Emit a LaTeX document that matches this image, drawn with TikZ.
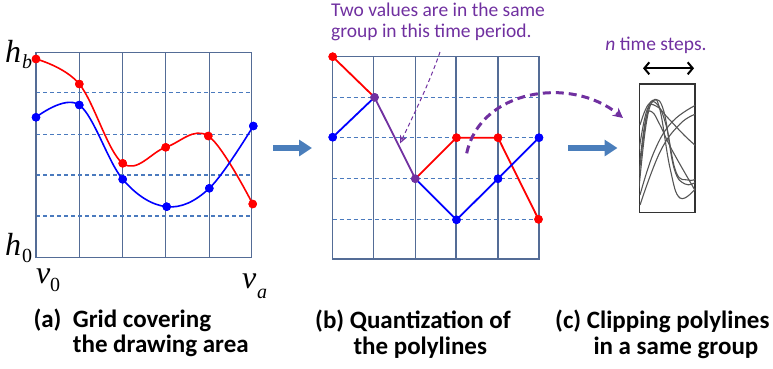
\documentclass[tikz,border=0pt]{standalone}
\usepackage{fontspec}
\setmainfont{Carlito}
\newfontfamily\tms{Liberation Serif}
\usetikzlibrary{arrows.meta}
\definecolor{gridc}{RGB}{84,108,150}
\definecolor{dashc}{RGB}{74,122,190}
\definecolor{purp}{RGB}{112,48,160}
\definecolor{arrowblue}{RGB}{74,126,187}
\definecolor{curvegray}{RGB}{85,85,85}
\begin{document}
\begin{tikzpicture}[x=1pt,y=-1pt,
  gridline/.style={draw=gridc, line width=1.3pt},
  dashline/.style={draw=dashc, line width=1.1pt, dash pattern=on 4pt off 3pt},
  dot/.style={circle, fill=#1, inner sep=0pt, minimum size=8.5pt},
  curveline/.style={draw=#1, line width=1.6pt},
  polyline/.style={draw=#1, line width=1.8pt},
  bigarrow/.style={draw=arrowblue, line width=5.5pt, -{Triangle[length=13pt,width=16pt]}},
  caption/.style={font=\fontsize{25}{25}\selectfont\bfseries, anchor=base west, inner sep=0pt},
  note/.style={font=\fontsize{19.5}{19.5}\selectfont, text=purp, anchor=base west, inner sep=0pt},
  mathlab/.style={font=\tms\fontsize{32}{32}\selectfont\itshape, anchor=base west, inner sep=0pt},
  sub/.style={font=\tms\fontsize{20}{20}\selectfont, anchor=base west, inner sep=0pt},
  gcurve/.style={draw=curvegray, line width=1.1pt}]
\useasboundingbox (0,0) rectangle (773,368);

% ---------- panel (a) grid ----------
\foreach \x in {79.3,122.7,165.7,209.3}
  \draw[gridline] (\x,52.7) -- (\x,257.7);
\foreach \y in {92.7,134.3,175,216}
  \draw[dashline] (36,\y) -- (251.7,\y);
\draw[gridline] (36,52.7) rectangle (251.7,257.7);

% dots (a)
\node[dot=red] (ra1) at (36,59) {};
\node[dot=red] (ra2) at (79.3,84) {};
\node[dot=red] (ra3) at (122.7,163.3) {};
\node[dot=red] (ra4) at (165.7,147.3) {};
\node[dot=red] (ra5) at (208.3,136) {};
\node[dot=red] (ra6) at (252.7,204) {};
\node[dot=blue] (ba1) at (36,117.3) {};
\node[dot=blue] (ba2) at (79.3,105) {};
\node[dot=blue] (ba3) at (122.7,179.3) {};
\node[dot=blue] (ba4) at (166.7,206.7) {};
\node[dot=blue] (ba5) at (209.3,188.3) {};
\node[dot=blue] (ba6) at (253.3,126) {};
\draw[curveline=red] plot[smooth, tension=0.6] coordinates {(ra1.center) (ra2.center) (ra3.center) (ra4.center) (ra5.center) (ra6.center)};
\draw[curveline=blue] plot[smooth, tension=0.6] coordinates {(ba1.center) (ba2.center) (ba3.center) (ba4.center) (ba5.center) (ba6.center)};
\foreach \n in {ra1,ra2,ra3,ra4,ra5,ra6} \fill[red] (\n.center) circle (4.3pt);
\foreach \n in {ba1,ba2,ba3,ba4,ba5,ba6} \fill[blue] (\n.center) circle (4.3pt);

% axis labels
\node[mathlab] (hb) at (5,62) {h};
\node[sub, font=\tms\itshape\fontsize{20}{20}\selectfont] (hbs) at (22,68) {b};
\node[mathlab] (h0) at (5,255) {h};
\node[sub] (h0s) at (22,262) {0};
\node[mathlab] (v0) at (36,283) {v};
\node[sub] (v0s) at (50,291) {0};
\node[mathlab] (va) at (242,288) {v};
\node[sub, font=\tms\itshape\fontsize{20}{20}\selectfont] (vas) at (257,298) {a};

% ---------- arrow a->b ----------
\coordinate (ab1) at (273,148);
\coordinate (ab2) at (312,148);
\draw[bigarrow] (ab1) -- (ab2);

% ---------- panel (b) grid ----------
\foreach \x in {373.3,415.3,456,498}
  \draw[gridline] (\x,56.7) -- (\x,259);
\foreach \y in {97.3,137.7,178.7,219.3}
  \draw[dashline] (332.7,\y) -- (539,\y);
\draw[gridline] (332.7,56.7) rectangle (539,259);

\node[dot=red] (rb1) at (332.7,56.7) {};
\node[dot=purp] (pb2) at (374.5,97.3) {};
\node[dot=purp] (pb3) at (415.3,178.7) {};
\node[dot=red] (rb4) at (456.5,137.7) {};
\node[dot=red] (rb5) at (498,137.7) {};
\node[dot=red] (rb6) at (538.5,219.3) {};
\node[dot=blue] (bb1) at (332.7,137.2) {};
\node[dot=blue] (bb4) at (456.5,219.8) {};
\node[dot=blue] (bb5) at (498,178.7) {};
\node[dot=blue] (bb6) at (539,137.7) {};
\draw[polyline=red] (rb1.center) -- (pb2.center);
\draw[polyline=red] (pb3.center) -- (rb4.center) -- (rb5.center) -- (rb6.center);
\draw[polyline=blue] (bb1.center) -- (pb2.center);
\draw[polyline=blue] (pb3.center) -- (bb4.center) -- (bb5.center) -- (bb6.center);
\draw[polyline=purp] (pb2.center) -- (pb3.center);
\foreach \n in {rb1,rb4,rb5,rb6} \fill[red] (\n.center) circle (4.3pt);
\foreach \n in {bb1,bb4,bb5,bb6} \fill[blue] (\n.center) circle (4.3pt);
\foreach \n in {pb2,pb3} \fill[purp] (\n.center) circle (4.3pt);

% note text
\node[note] (t1) at (331,16.5) {Two values are in the same};
\node[note] (t2) at (331,37) {group in this time period.};
\coordinate (pa1) at (440,52);
\coordinate (pa2) at (400,143.5);
\draw[purp, line width=1pt, dash pattern=on 4pt off 3pt, -{Stealth[open, length=8pt, width=7pt]}]
  (pa1) .. controls (429,84) and (414,114) .. (pa2);

% thick purple dashed arrow
\coordinate (pc1) at (466.7,153.3);
\coordinate (pc2) at (623,118);
\draw[purp, line width=3pt, dash pattern=on 8pt off 5pt, -{Stealth[length=10pt, width=10pt]}]
  (pc1) .. controls (480,90) and (570,75) .. (pc2);

% ---------- arrow b->c ----------
\coordinate (bc1) at (568,148);
\coordinate (bc2) at (617.5,148);
\draw[bigarrow] (bc1) -- (bc2);

% ---------- panel (c) ----------
\node[draw=black!80, line width=1.3pt, minimum width=55.7pt, minimum height=128.7pt, inner sep=0pt] (box) at (667.2,148.3) {};
\begin{scope}
\clip (639.3,84) rectangle (695,212.7);
\draw[gcurve] plot[smooth, tension=0.7] coordinates {(639,188) (646,125) (653,101) (660,110) (670,168) (680,198) (696,188)};
\draw[gcurve] plot[smooth, tension=0.7] coordinates {(639,176) (647,114) (655,100) (664,112) (674,168) (685,184) (696,182)};
\draw[gcurve] plot[smooth, tension=0.7] coordinates {(640,125) (648,105) (657,104) (666,125) (676,172) (688,180) (696,179)};
\draw[gcurve] plot[smooth, tension=0.7] coordinates {(639,150) (647,110) (656,106) (668,118) (684,135) (696,146)};
\draw[gcurve] plot[smooth, tension=0.7] coordinates {(640,195) (654,152) (672,122) (696,105)};
\draw[gcurve] plot[smooth, tension=0.7] coordinates {(640,205) (660,152) (680,124) (696,114)};
\draw[gcurve] plot[smooth, tension=0.7] coordinates {(640,160) (646,118) (652,112) (660,125) (672,150) (696,192)};
\end{scope}
\coordinate (da1) at (643,68.3);
\coordinate (da2) at (694,68.3);
\draw[line width=2pt, {Straight Barb[length=5pt,width=12pt]}-{Straight Barb[length=5pt,width=12pt]}] (da1) -- (da2);
\node[note, anchor=base] (nts) at (656,50.5) {\textit{n} time steps.};

% ---------- captions ----------
\node[caption] (ca0) at (33.3,327.5) {(a)};
\node[caption] (ca1) at (72.7,327.5) {Grid covering};
\node[caption] (ca2) at (72.7,352) {the drawing area};
\node[caption] (cb1) at (315,328) {(b) Quantization of};
\node[caption] (cb2) at (353.3,354) {the polylines};
\node[caption] (cc1) at (555,328) {(c) Clipping polylines};
\node[caption] (cc2) at (593.3,354) {in a same group};
\end{tikzpicture}
\end{document}
